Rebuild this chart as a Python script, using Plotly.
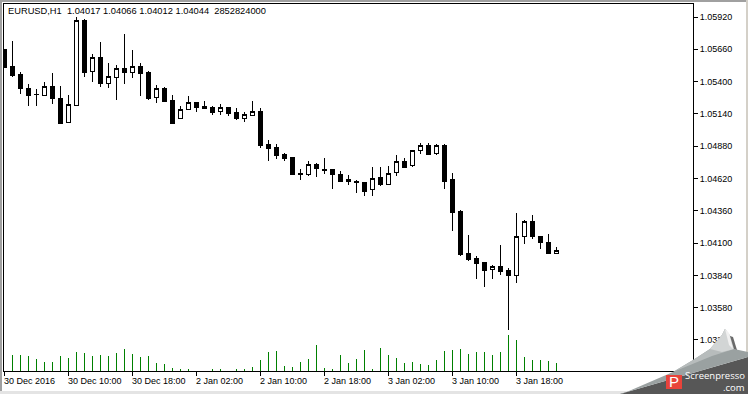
import plotly.graph_objects as go

opens = [1.05662,1.05525,1.05461,1.05348,1.05296,1.05286,1.05364,1.05268,1.05072,1.05211,
1.05896,1.05479,1.05598,1.05383,1.05431,1.05509,1.05471,1.05525,1.05477,1.05270,
1.05348,1.05252,1.05101,1.05173,1.05233,1.05201,1.05195,1.05157,1.05195,1.05155,
1.05107,1.05131,1.05163,1.04897,1.04873,1.04817,1.04793,1.04661,1.04656,1.04736,
1.04696,1.04696,1.04656,1.04608,1.04599,1.04591,1.04533,1.04632,1.04570,1.04666,
1.04760,1.04723,1.04843,1.04889,1.04819,1.04889,1.04608,1.04358,1.04020,1.03972,
1.03947,1.03885,1.03915,1.03883,1.03843,1.04151,1.04277,1.04149,1.04108,1.04017]
highs = [1.05662,1.05726,1.05477,1.05380,1.05340,1.05396,1.05469,1.05364,1.05292,1.05920,
1.05904,1.05622,1.05718,1.05549,1.05533,1.05783,1.05654,1.05552,1.05485,1.05372,
1.05356,1.05292,1.05203,1.05284,1.05233,1.05243,1.05203,1.05219,1.05195,1.05187,
1.05155,1.05243,1.05187,1.04930,1.04897,1.04825,1.04793,1.04696,1.04760,1.04744,
1.04785,1.04696,1.04680,1.04648,1.04608,1.04591,1.04712,1.04712,1.04720,1.04809,
1.04785,1.04849,1.04905,1.04905,1.04897,1.04897,1.04664,1.04366,1.04165,1.03996,
1.03947,1.03923,1.04084,1.03899,1.04342,1.04286,1.04326,1.04157,1.04173,1.04066]
lows = [1.05517,1.05437,1.05300,1.05203,1.05203,1.05286,1.05219,1.05058,1.05072,1.05203,
1.05437,1.05396,1.05356,1.05348,1.05252,1.05380,1.05429,1.05284,1.05252,1.05227,
1.05235,1.05066,1.05101,1.05173,1.05155,1.05179,1.05131,1.05131,1.05123,1.05091,
1.05074,1.05127,1.04865,1.04760,1.04777,1.04760,1.04648,1.04608,1.04640,1.04632,
1.04656,1.04535,1.04591,1.04567,1.04503,1.04479,1.04479,1.04559,1.04570,1.04640,
1.04704,1.04712,1.04817,1.04809,1.04809,1.04535,1.04197,1.03996,1.03955,1.03811,
1.03746,1.03811,1.03843,1.03400,1.03778,1.04092,1.04133,1.04052,1.04012,1.04012]
closes = [1.05517,1.05453,1.05342,1.05292,1.05300,1.05364,1.05262,1.05066,1.05219,1.05896,
1.05471,1.05598,1.05383,1.05445,1.05509,1.05477,1.05525,1.05463,1.05268,1.05348,
1.05243,1.05066,1.05179,1.05233,1.05195,1.05187,1.05155,1.05195,1.05147,1.05107,
1.05139,1.05163,1.04889,1.04865,1.04809,1.04785,1.04656,1.04656,1.04736,1.04699,
1.04688,1.04656,1.04599,1.04594,1.04586,1.04519,1.04624,1.04575,1.04664,1.04760,
1.04712,1.04849,1.04889,1.04817,1.04889,1.04599,1.04350,1.04012,1.03964,1.03939,
1.03883,1.03915,1.03875,1.03843,1.04157,1.04277,1.04149,1.04108,1.04020,1.04044]
# tick volume, in hundreds of millions (the first bar is hidden behind the axis line)
volumes = [None,57,57,54,43,32,32,54,46,68,64,54,57,54,64,79,61,50,54,29,
25,11,7,4,0,0,4,7,0,4,4,14,39,68,71,18,14,32,43,93,
11,7,57,29,43,75,7,82,57,46,29,32,25,21,39,71,75,79,61,68,
68,57,68,129,111,50,39,39,36,29]
candle_index = list(range(len(opens)))

price_ticks = [1.05920,1.05660,1.05400,1.05140,1.04880,1.04620,1.04360,1.04100,1.03840,1.03580,1.03320]
time_tick_index = [0,8,16,24,32,40,48,56,64]
time_tick_labels = ["30 Dec 2016","30 Dec 10:00","30 Dec 18:00","2 Jan 02:00","2 Jan 10:00",
                    "2 Jan 18:00","3 Jan 02:00","3 Jan 10:00","3 Jan 18:00"]
header = "EURUSD,H1  1.04017 1.04066 1.04012 1.04044  2852824000"

W, H = 748, 394
L, T, R, B = 4, 4, 693, 371
FONT = "Liberation Sans"

def pts(points):
    out = []
    for i, (x, y) in enumerate(points):
        out.append(("M" if i == 0 else "L") + f"{(x-L)/(R-L):.5f},{(B-y)/(B-T):.5f}")
    return " ".join(out) + " Z"

def poly(points, color):
    return dict(type="path", xref="paper", yref="paper", path=pts(points),
                fillcolor=color, line=dict(width=0), layer="above")

fig = go.Figure()
fig.add_trace(go.Bar(x=candle_index, y=volumes, width=0.06, yaxis="y2",
                     marker=dict(color="#008000", line=dict(width=0)), showlegend=False))
fig.add_trace(go.Candlestick(x=candle_index, open=opens, high=highs, low=lows, close=closes,
                             whiskerwidth=0, showlegend=False,
                             increasing=dict(line=dict(color="#000000", width=1), fillcolor="#ffffff"),
                             decreasing=dict(line=dict(color="#000000", width=1), fillcolor="#000000")))

annotations = []
def px_text(text, x, y, size=9, color="#000000", anchor="left", family=FONT):
    annotations.append(dict(x=(x-L)/(R-L), y=(B-y)/(B-T), xref="paper", yref="paper", text=text,
                            showarrow=False, xanchor=anchor, yanchor="middle", borderpad=0, borderwidth=0,
                            font=dict(family=family, size=size, color=color)))

px_text(header, 7.5, 11, size=9.3)
for idx, lab in zip(time_tick_index, time_tick_labels):
    annotations.append(dict(x=idx, xref="x", y=(B-381)/(B-T), yref="paper", text=lab, showarrow=False,
                            xanchor="left", yanchor="middle", borderpad=0, xshift=-1.5,
                            font=dict(family=FONT, size=9, color="#000000")))
px_text("P", 674, 382, size=15, color="#ffffff", anchor="center")
px_text("Screenpresso", 745, 375, size=9.5, color="#ffffff", anchor="right", family="Open Sans")
px_text(".com", 745, 387, size=9.5, color="#ffffff", anchor="right", family="Open Sans")

shapes = [
    poly([(0,0),(748,0),(748,2),(0,2)], "#a0a0a0"),
    poly([(0,0),(2,0),(2,394),(0,394)], "#a0a0a0"),
    poly([(746,0),(748,0),(748,394),(746,394)], "#d4d0c8"),
    poly([(0,391),(748,391),(748,394),(0,394)], "#e4e4e4"),
    poly([(620,394),(748,357),(748,394)], "#575757"),
    poly([(622,394),(673,372),(693,360),(710,349),(722,335),(725,329),(731,337),(734,349),(748,352),(748,357),(620,394)], "#9aa1a1"),
    poly([(673,372),(693,360),(710,349),(722,335),(725,329),(731,337),(734,349),(712,356)], "#b7bcbc"),
    poly([(710,349),(722,335),(725,329),(731,337),(734,349),(722,352)], "#d2d5d5"),
    poly([(725,329),(729,333),(733,349),(729,345)], "#f0f0f0"),
    poly([(730,336),(733,337),(737,350),(734,349)], "#6a6a6a"),
    poly([(666,375),(682,375),(682,389),(666,389)], "#e8433a"),
]

fig.update_layout(
    width=W, height=H, margin=dict(l=L, r=W-R, t=T, b=H-B, pad=0), autosize=False,
    paper_bgcolor="#ffffff", plot_bgcolor="#ffffff", bargap=0, showlegend=False,
    boxgap=0.5, boxgroupgap=0,
    font=dict(family=FONT, size=9, color="#000000"),
    xaxis=dict(range=[-0.0625, 86.0625], rangeslider=dict(visible=False), showgrid=False, zeroline=False,
               tickmode="array", tickvals=time_tick_index, ticktext=[""]*len(time_tick_index),
               ticks="outside", ticklen=4, tickcolor="#000000", tickwidth=1,
               showline=True, mirror=True, linecolor="#000000", linewidth=1),
    yaxis=dict(side="right", range=[1.03070, 1.06025], showgrid=False, zeroline=False,
               tickmode="array", tickvals=price_ticks, ticktext=[f"{v:.5f}" for v in price_ticks],
               ticks="outside", ticklen=4, tickcolor="#000000", tickwidth=1,
               tickfont=dict(family=FONT, size=9, color="#000000"),
               showline=True, mirror=True, linecolor="#000000", linewidth=1),
    yaxis2=dict(overlaying="y", range=[0, 1310], visible=False, fixedrange=True),
    annotations=annotations, shapes=shapes,
)
fig.write_html("out.html", config={"displayModeBar": False},
               post_script="document.body.style.margin='0';document.documentElement.style.overflow='hidden';"
                           "var s=document.createElement('style');"
                           "s.textContent='.trace.boxes path, path.box{shape-rendering:crispEdges !important}';"
                           "document.head.appendChild(s);")
